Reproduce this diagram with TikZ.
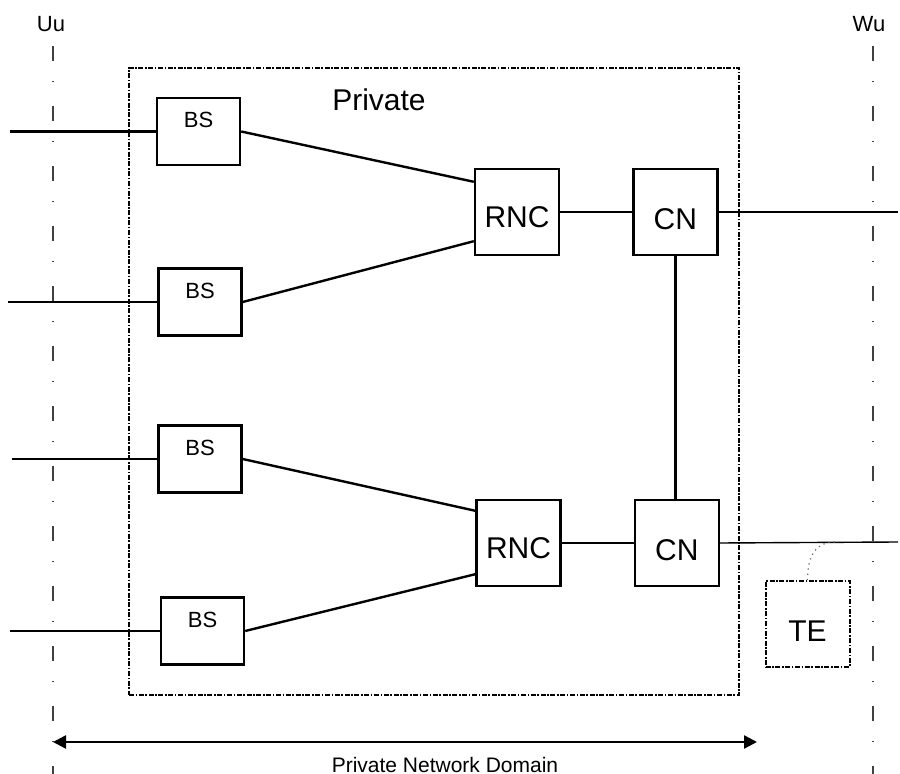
\documentclass[tikz,border=0pt]{standalone}
\usepackage{fontspec}
\setmainfont{Liberation Sans}
\usepackage{tikz}
\usetikzlibrary{
  arrows.meta,
  positioning,
  calc
}
\tikzset{
  % Base station box: label sits near the top
  bsbox/.style={
    rectangle, draw, line width=1.2pt, inner sep=0pt,
    minimum width=41.5pt, text height=15pt, text depth=18.5pt,
    font=\fontsize{11}{13}\selectfont
  },
  % RNC box
  rncbox/.style={
    rectangle, draw, line width=1.2pt, inner sep=0pt,
    minimum width=42pt, text height=29.5pt, text depth=13.5pt,
    font=\fontsize{15}{18}\selectfont
  },
  % Core network box
  cnbox/.style={
    rectangle, draw, line width=1.2pt, inner sep=0pt,
    minimum width=42pt, text height=30.5pt, text depth=12.5pt,
    font=\fontsize{15}{18}\selectfont
  },
  % Terminal box, dash-dotted
  tebox/.style={
    cnbox, line width=1pt,
    dash pattern=on 2.5pt off 0.8pt on 0.8pt off 0.8pt
  },
  % Dash-dotted domain outline
  domainbox/.style={
    rectangle, draw, line width=1pt, inner sep=0pt,
    dash pattern=on 2.5pt off 0.8pt on 0.8pt off 0.8pt
  },
  % Reference point line
  refline/.style={
    line width=0.6pt, draw=black!75,
    dash pattern=on 7.5pt off 10pt on 0.75pt off 11.75pt
  },
  % Links
  link/.style={line width=1.2pt},
  thinlink/.style={line width=0.7pt},
  tap/.style={line width=0.6pt, draw=black!60, dotted},
  % Span arrow
  span/.style={
    {Triangle[length=6.5pt,width=6.5pt]}-{Triangle[length=6.5pt,width=6.5pt]},
    line width=1.2pt
  },
  small/.style={font=\fontsize{11}{13}\selectfont},
  big/.style={font=\fontsize{15}{18}\selectfont}
}

\begin{document}
\begin{tikzpicture}[x=0.5pt, y=-0.5pt]
  \useasboundingbox (0,0) rectangle (900,774);

  % reference points
  \node[small, anchor=base] (uu) at (51,32) {Uu};
  \node[small, anchor=base] (wu) at (869,32) {Wu};
  \coordinate (uutop) at (53,46);
  \coordinate (uubot) at (53,774);
  \coordinate (wutop) at (873,46);
  \coordinate (wubot) at (873,774);
  \draw[refline] (uutop) -- (uubot);
  \draw[refline] (wutop) -- (wubot);

  % private domain
  \node[domainbox, minimum width=305pt, minimum height=313.5pt] (dom) at (434,381.5) {};
  \node[big, anchor=base] (private) at (379,111) {Private};

  \node[bsbox] (bs1) at (198.5,131.5) {BS};
  \node[bsbox] (bs2) at (200,302) {BS};
  \node[bsbox] (bs3) at (200,459) {BS};
  \node[bsbox] (bs4) at (202.5,631) {BS};

  \node[rncbox] (rnc1) at (517,212) {RNC};
  \node[cnbox, right=36pt of rnc1] (cn1) {CN};
  \node[rncbox] (rnc2) at (518.5,543) {RNC};
  \node[cnbox, right=36pt of rnc2] (cn2) {CN};

  \node[tebox] (te) at (807.5,624) {TE};

  % air side
  \coordinate (in1) at (10,131.5);
  \coordinate (in2) at (8,302);
  \coordinate (in3) at (12,459);
  \coordinate (in4) at (10,631);
  \draw[link] (in1) -- (bs1.west);
  \draw[link] (in2) -- (bs2.west);
  \draw[link] (in3) -- (bs3.west);
  \draw[link] (in4) -- (bs4.west);

  \draw[link] (bs1.east) -- ([yshift=-7pt]rnc1.north west);
  \draw[link] (bs2.east) -- ([yshift=7.5pt]rnc1.south west);
  \draw[link] (bs3.east) -- ([yshift=-6pt]rnc2.north west);
  \draw[link] (bs4.east) -- ([yshift=6.5pt]rnc2.south west);

  \draw[link] (rnc1) -- (cn1);
  \draw[link] (rnc2) -- (cn2);
  \draw[link] (cn1.south) -- (cn1.south |- cn2.north);

  % network side
  \coordinate (out1) at (898,212);
  \coordinate (out2) at (898,542);
  \coordinate (tapping) at (835,542);
  \draw[thinlink] (cn1.east) -- (out1);
  \draw[thinlink] (cn2.east) -- (out2);
  \draw[tap] (te.north) .. controls +(0,-26) and +(-18,0) .. (tapping);

  % domain span
  \coordinate (dl) at (53,742);
  \coordinate (dr) at (757,742);
  \draw[span] (dl) -- (dr);
  \node[font=\fontsize{10.5}{12}\selectfont, anchor=base] (spanlbl) at (445,772) {Private Network Domain};
\end{tikzpicture}
\end{document}
